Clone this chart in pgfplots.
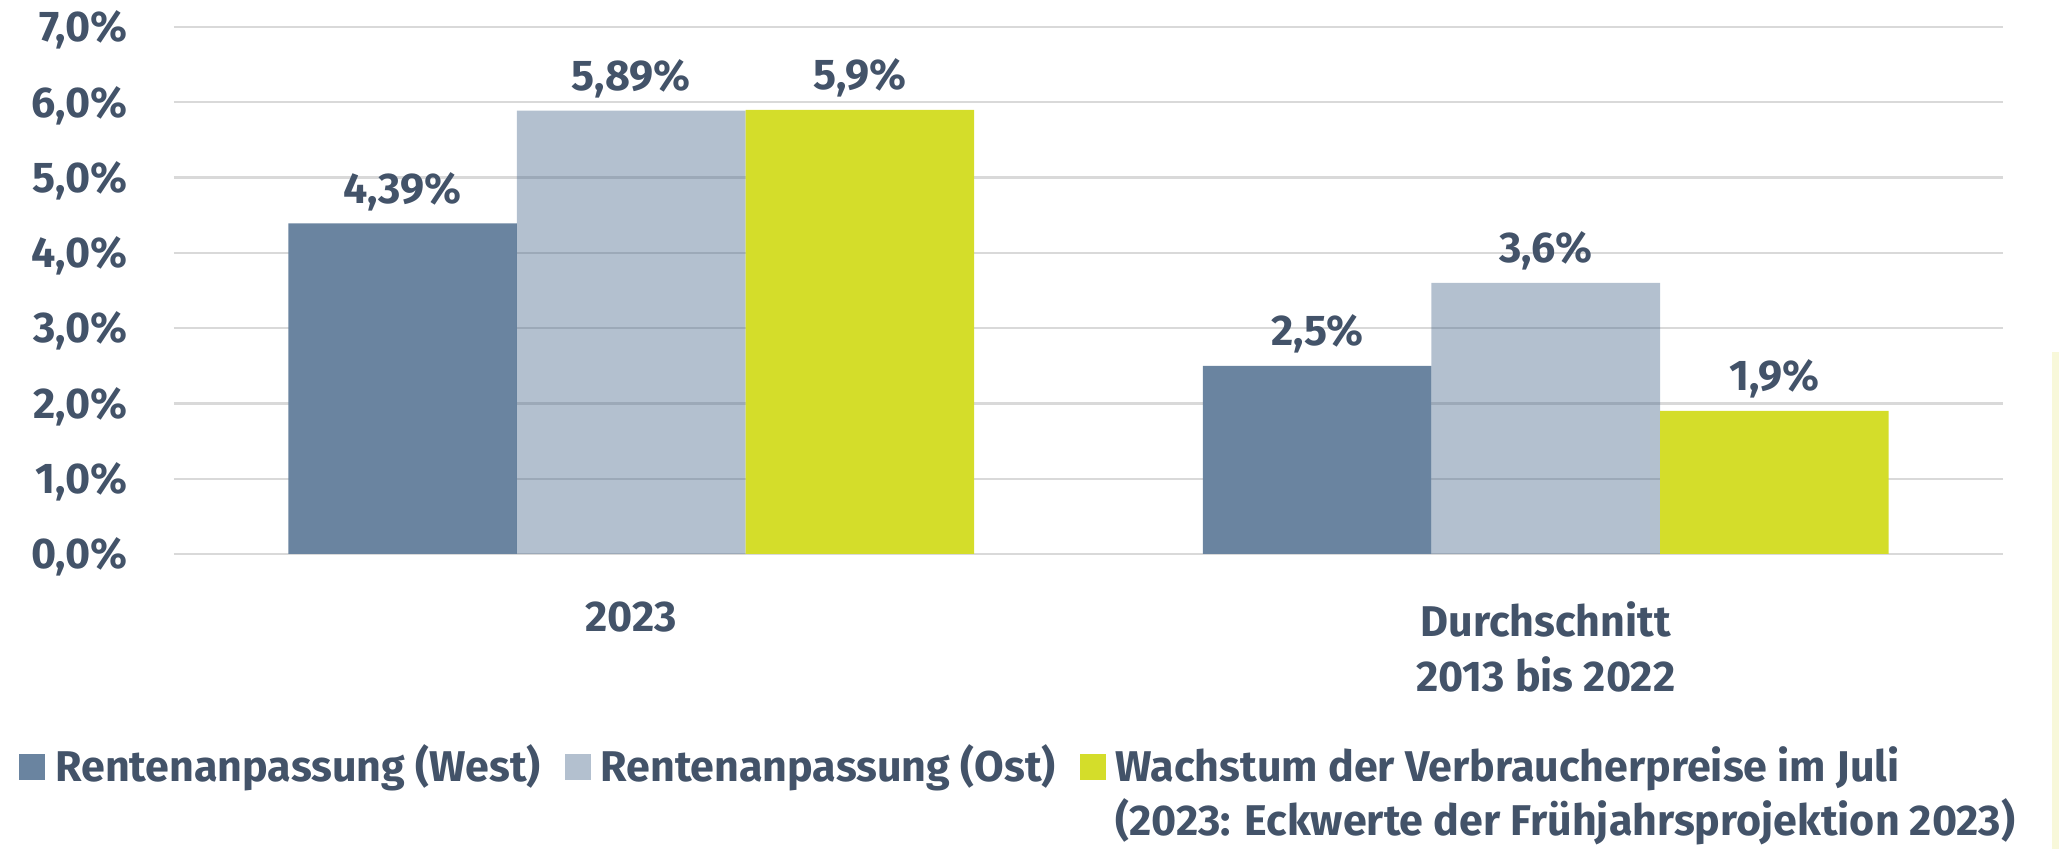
\documentclass[border=0pt]{standalone}
\usepackage{fontspec}
\setmainfont{Fira Sans}
\usepackage{pgfplots}
\pgfplotsset{compat=1.18}
\definecolor{txt}{HTML}{435369}
\definecolor{west}{HTML}{6A84A0}
\definecolor{ostdark}{RGB}{65,98,135}
\definecolor{gruen}{HTML}{D4DD2A}
\definecolor{gridc}{HTML}{D9D9D9}
\definecolor{strip}{RGB}{248,248,218}
\newcommand{\chfont}{\fontsize{21.5}{27.5}\selectfont\bfseries}
\begin{document}
\begin{tikzpicture}
\path (-87pt,-147.5pt) rectangle (942.5pt,277pt);
\fill[strip] (939pt,-147.5pt) rectangle (942.5pt,101pt);
\begin{axis}[
  at={(0pt,0pt)}, anchor=south west,
  scale only axis, width=914.5pt, height=263.5pt,
  xmin=-0.5, xmax=1.5, ymin=0, ymax=7,
  ybar=0pt, bar width=114.3pt,
  axis line style={draw=none},
  major tick length=0pt,
  ymajorgrids, grid style={gridc, line width=1.1pt},
  ytick={0,1,2,3,4,5,6,7},
  yticklabels={{0,0\%},{1,0\%},{2,0\%},{3,0\%},{4,0\%},{5,0\%},{6,0\%},{7,0\%}},
  xtick={0,1},
  xticklabels={2023,{Durchschnitt\\2013 bis 2022}},
  tick label style={font=\chfont, text=txt, inner sep=0pt},
  xticklabel style={align=center, anchor=north, yshift=-23.5pt},
  yticklabel style={anchor=base east, xshift=-23pt, yshift=-7.4pt},
  point meta=explicit symbolic,
  nodes near coords,
  every node near coord/.append style={font=\chfont, text=txt, anchor=base, inner sep=0pt, yshift=10pt},
  legend columns=3,
  legend cell align=left,
  legend style={draw=none, fill=none, at={(-0.088,-0.352)}, anchor=north west,
    font=\fontsize{21.5}{27}\selectfont\bfseries, text=txt, nodes={inner sep=0pt},
    /tikz/every odd column/.append style={column sep=5pt},
    /tikz/every even column/.append style={column sep=12pt}},
  legend image code/.code={\fill[#1] (0pt,-8pt) rectangle (13pt,5pt);},
]
\addplot[fill=west, draw=none] coordinates {(0,4.39) [4,39\%] (1,2.5) [2,5\%]};
\addlegendentry{Rentenanpassung (West)}
\addplot[fill=ostdark, fill opacity=0.4, text opacity=1, draw=none] coordinates {(0,5.89) [5,89\%] (1,3.6) [3,6\%]};
\addlegendentry{Rentenanpassung (Ost)}
\addplot[fill=gruen, draw=none] coordinates {(0,5.9) [5,9\%] (1,1.9) [1,9\%]};
\addlegendentry{\begin{tabular}[t]{@{}l@{}}Wachstum der Verbraucherpreise im Juli\\(2023: Eckwerte der Frühjahrsprojektion 2023)\end{tabular}}
\end{axis}
\end{tikzpicture}
\end{document}
